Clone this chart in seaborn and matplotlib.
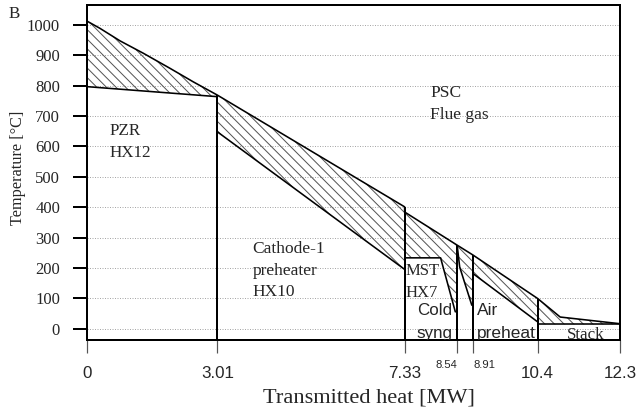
import numpy as np
import pandas as pd
import matplotlib
matplotlib.use("Agg")
import matplotlib.pyplot as plt
import seaborn as sns

# ---------------- data ----------------
heat_ticks = [0, 3.01, 7.33, 8.54, 8.91, 10.4, 12.3]
heat_tick_labels = ["0", "3.01", "7.33", "8.54", "8.91", "10.4", "12.3"]
temp_ticks = [0, 100, 200, 300, 400, 500, 600, 700, 800, 900, 1000]

# hot (flue gas) side, per exchanger section
pzr_hot_q = [0, 0.30, 0.76, 1.30, 1.92, 2.45, 3.01]
pzr_hot_T = [1013, 989, 948, 907, 857, 813, 769]
cath_hot_q = [3.01, 7.33]
cath_hot_T = [769, 401]
mst_hot_q = [7.33, 8.54]
mst_hot_T = [384, 275]
syng_hot_q = [8.54, 8.91]
syng_hot_T = [275, 242]
air_hot_q = [8.91, 10.4]
air_hot_T = [242, 99]
stack_hot_q = [10.4, 10.92, 12.3]
stack_hot_T = [99, 38, 16]

# cold side, per exchanger section
pzr_cold_q = [0, 3.01]
pzr_cold_T = [797, 764]
cath_cold_q = [3.01, 7.33]
cath_cold_T = [648, 195]
mst_cold_q = [7.33, 8.16, 8.50]
mst_cold_T = [233, 233, 55]
syng_cold_q = [8.55, 8.60, 8.88]
syng_cold_T = [265, 203, 77]
air_cold_q = [8.91, 10.4]
air_cold_T = [181, 22]
stack_cold_q = [10.4, 12.3]
stack_cold_T = [14, 14]

# section separators (heat position, top temperature)
sep_q = [3.01, 7.33, 8.54, 8.91, 10.4]
sep_T = [769, 401, 275, 242, 99]

# --------------- figure ---------------
sns.set_theme(style="white")
plt.rcParams["font.family"] = ["Liberation Serif", "DejaVu Serif"]
plt.rcParams["hatch.linewidth"] = 0.5
plt.rcParams["hatch.color"] = "#555555"

DPI = 144
fig = plt.figure(figsize=(639 / DPI, 415 / DPI), dpi=DPI)
ax = fig.add_axes([87 / 639, 1 - 339.5 / 415, (620 - 87) / 639, (339.5 - 5.3) / 415])

YMIN, YMAX = -36, 1065
ax.set_xlim(0, 12.3)
ax.set_ylim(YMIN, YMAX)

sections = [
    (pzr_hot_q, pzr_hot_T, pzr_cold_q, pzr_cold_T),
    (cath_hot_q, cath_hot_T, cath_cold_q, cath_cold_T),
    (mst_hot_q, mst_hot_T, mst_cold_q, mst_cold_T),
    (syng_hot_q, syng_hot_T, syng_cold_q, syng_cold_T),
    (air_hot_q, air_hot_T, air_cold_q, air_cold_T),
    (stack_hot_q, stack_hot_T, stack_cold_q, stack_cold_T),
]

# hatched bands between hot and cold curves
for hq, hT, cq, cT in sections:
    grid = np.union1d(hq, cq)
    grid = grid[(grid >= min(hq)) & (grid <= max(hq))]
    h = np.interp(grid, hq, hT)
    c = np.interp(grid, cq, cT)
    ax.fill_between(grid, c, h, where=h >= c, facecolor="none",
                    edgecolor="#555555", hatch="\\" * 5, linewidth=0, zorder=1)

# hot composite line
hot_df = pd.DataFrame({
    "q": sum([s[0] for s in sections], []),
    "T": sum([s[1] for s in sections], []),
})
sns.lineplot(data=hot_df, x="q", y="T", sort=False, estimator=None,
             color="black", linewidth=0.8, ax=ax, zorder=3)

# cold lines
for hq, hT, cq, cT in sections:
    df = pd.DataFrame({"q": cq, "T": cT})
    sns.lineplot(data=df, x="q", y="T", sort=False, estimator=None,
                 color="black", linewidth=0.8, ax=ax, zorder=3)

# vertical separators
ax.vlines(sep_q, YMIN, sep_T, colors="black", linewidth=1.0, zorder=3)

# grid
ax.set_yticks(temp_ticks)
ax.set_yticklabels([str(t) for t in temp_ticks])
ax.yaxis.grid(True, linestyle=(0, (1, 1.5)), color="#a8a8a8", linewidth=0.5)
ax.xaxis.grid(False)
ax.set_axisbelow(True)

# ticks
ax.set_xticks(heat_ticks)
ax.set_xticklabels(heat_tick_labels)
ax.tick_params(axis="y", which="major", left=True, length=7, width=1.0,
               color="black", pad=6.5, labelsize=8.3)
ax.tick_params(axis="x", which="major", bottom=True, length=6.5, width=0.6,
               color="#555555", pad=6.5, labelsize=8.5)
for lbl in ax.get_xticklabels():
    lbl.set_fontfamily(["Liberation Sans", "DejaVu Sans"])
xt = ax.xaxis.get_major_ticks()
xt[3].label1.set_fontsize(5.6)
xt[3].label1.set_horizontalalignment("right")
xt[3].set_pad(4.0)
xt[4].label1.set_fontsize(5.6)
xt[4].label1.set_horizontalalignment("left")
xt[4].set_pad(4.0)

for sp in ax.spines.values():
    sp.set_color("black")
    sp.set_linewidth(1.0)
    sp.set_visible(True)

# axis labels
ax.set_xlabel("Transmitted heat [MW]", fontsize=11.2)
ax.xaxis.set_label_coords((368.5 - 87) / 533, (339.5 - 389) / 334.2)
ax.set_ylabel("Temperature [°C]", fontsize=8.1)
ax.yaxis.set_label_coords((26 - 87) / 533, (339.5 - 168) / 334.2)

# annotations
serif = ["Liberation Serif", "DejaVu Serif"]
sans = ["Liberation Sans", "DejaVu Sans"]
tk = dict(ha="left", va="baseline", clip_on=True, zorder=4)
ax.text(0.53, 637, "PZR", fontsize=8.5, family=serif, **tk)
ax.text(0.53, 566, "HX12", fontsize=8.5, family=serif, **tk)
ax.text(7.92, 763, "PSC", fontsize=8.7, family=serif, **tk)
ax.text(7.92, 692, "Flue gas", fontsize=8.7, family=serif, **tk)
ax.text(3.815, 250, "Cathode-1", fontsize=8.7, family=serif, **tk)
ax.text(3.815, 176, "preheater", fontsize=8.7, family=serif, **tk)
ax.text(3.815, 106, "HX10", fontsize=8.7, family=serif, **tk)
ax.text(7.36, 176, "MST", fontsize=8.3, family=serif, **tk)
ax.text(7.36, 104, "HX7", fontsize=8.3, family=serif, **tk)
ax.text(7.61, 44, "Cold", fontsize=8.5, family=sans, **tk)
ax.text(7.61, -30, "syng", fontsize=8.5, family=sans, **tk)
ax.text(9.01, 44, "Air", fontsize=8.7, family=sans, **tk)
ax.text(8.99, -30, "preheat", fontsize=8.7, family=sans, **tk)
ax.text(11.07, -33, "Stack", fontsize=8.5, family=serif, **tk)

fig.text(9 / 639, 1 - 14 / 415, "B", fontsize=8.5, family=serif,
         ha="left", va="center")

fig.savefig("out.png", dpi=DPI)
